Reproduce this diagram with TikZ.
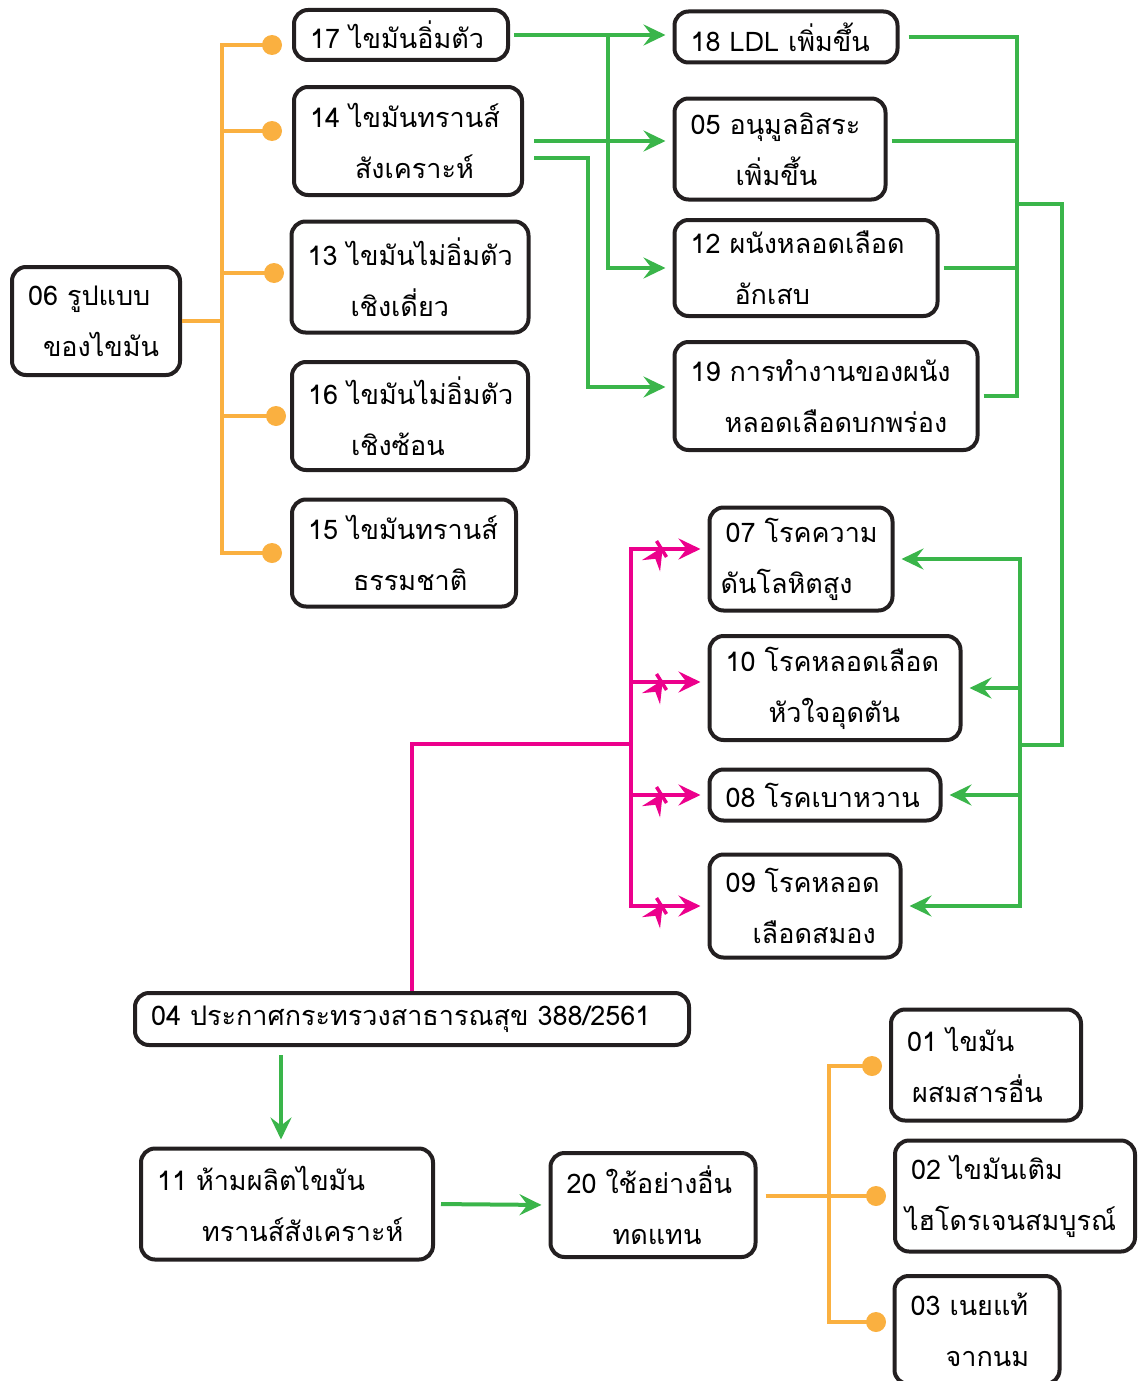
\documentclass[tikz,border=0pt]{standalone}
\usepackage{fontspec}
\setmainfont[Script=Thai]{Loma}
\usetikzlibrary{arrows.meta,decorations.markings}
\definecolor{grnline}{RGB}{58,181,74}
\definecolor{orgline}{RGB}{250,176,64}
\definecolor{pnkline}{RGB}{236,0,140}
\definecolor{boxline}{RGB}{35,31,32}
\begin{document}
\begin{tikzpicture}[
        x=1pt, y=-1pt,
        box/.style={draw=boxline, line width=4pt, rounded corners=14pt, fill=white,
            align=left, inner xsep=16pt, inner ysep=0pt, font=\fontsize{27}{51}\selectfont},
        dot/.style={circle, fill=orgline, inner sep=0pt, minimum size=20pt},
        org/.style={orgline, line width=4pt},
        grnl/.style={grnline, line width=4pt},
        grn/.style={grnl, -{Stealth[length=22pt, width=21pt, inset=8pt]}, shorten >=7pt},
        pnkl/.style={pnkline, line width=4pt},
        pnk/.style={pnkl, -{Stealth[length=22pt, width=21pt, inset=8pt]}, shorten >=7pt,
            postaction={decorate},
            decoration={markings, mark=at position -46pt with
                {\draw[pnkline, line width=3.5pt] (-5,-8) -- (5,8) (-5,8) -- (5,-8);}}}
    ]
        \useasboundingbox (0,0) rectangle (1146,1381);

        % รูปแบบของไขมัน
        \node[box, text width=136, minimum height=108] (b06) at (96,321) {06~รูปแบบ\\\hspace*{15pt}ของไขมัน};
        \node[box, text width=182, minimum height=50] (b17) at (401,35) {17~ไขมันอิ่มตัว};
        \node[box, text width=196, minimum height=108] (b14) at (408,141) {14~ไขมันทรานส์\\\hspace*{45pt}สังเคราะห์};
        \node[box, text width=205, minimum height=111] (b13) at (410,277) {13~ไขมันไม่อิ่มตัว\\\hspace*{43pt}เชิงเดี่ยว};
        \node[box, text width=204, minimum height=108] (b16) at (410,416) {16~ไขมันไม่อิ่มตัว\\\hspace*{43pt}เชิงซ้อน};
        \node[box, text width=192, minimum height=107] (b15) at (404,553) {15~ไขมันทรานส์\\\hspace*{45pt}ธรรมชาติ};

        % ผลต่อหลอดเลือด
        \node[box, text width=191, minimum height=51] (b18) at (786,37) {18~LDL เพิ่มขึ้น};
        \node[box, text width=179, minimum height=101] (b05) at (780,149) {05~อนุมูลอิสระ\\\hspace*{45pt}เพิ่มขึ้น};
        \node[box, text width=231, minimum height=96] (b12) at (806,268) {12~ผนังหลอดเลือด\\\hspace*{44pt}อักเสบ};
        \node[box, text width=271, minimum height=108] (b19) at (826,396) {19~การทำงานของผนัง\\\hspace*{34pt}หลอดเลือดบกพร่อง};

        % โรค
        \node[box, text width=151, minimum height=103] (b07) at (801,559) {07~โรคความ\\\hspace*{-5pt}ดันโลหิตสูง};
        \node[box, text width=219, minimum height=104] (b10) at (835,688) {10~โรคหลอดเลือด\\\hspace*{43pt}หัวใจอุดตัน};
        \node[box, text width=199, minimum height=51] (b08) at (825,795) {08~โรคเบาหวาน};
        \node[box, text width=159, minimum height=103] (b09) at (805,906) {09~โรคหลอด\\\hspace*{27pt}เลือดสมอง};

        % ประกาศและทางเลือก
        \node[box, text width=522, minimum height=52] (b04) at (412,1019) {04~ประกาศกระทรวงสาธารณสุข 388/2561};
        \node[box, text width=260, minimum height=111] (b11) at (287,1204) {11~ห้ามผลิตไขมัน\\\hspace*{45pt}ทรานส์สังเคราะห์};
        \node[box, text width=173, minimum height=104] (b20) at (653,1205) {20~ใช้อย่างอื่น\\\hspace*{46pt}ทดแทน};
        \node[box, text width=158, minimum height=111] (b01) at (986,1065) {01~ไขมัน\\\hspace*{5pt}ผสมสารอื่น};
        \node[box, text width=208, minimum height=111] (b02) at (1015,1196) {02~ไขมันเติม\\\hspace*{-6pt}ไฮโดรเจนสมบูรณ์};
        \node[box, text width=133, minimum height=108] (b03) at (977,1330) {03~เนยแท้\\\hspace*{35pt}จากนม};

        % เส้นสีส้ม
        \coordinate (t06) at (222,321);
        \coordinate (t20) at (829,1196);
        \draw[org] (b06.east) -- (t06);
        \foreach \y in {45, 131, 273, 416, 553} {
            \draw[org] (t06) |- (272,\y);
        }
        \draw[org, shorten <=8pt] (b20.east |- t20) -- (t20);
        \draw[org] (t20) |- (872,1066);
        \draw[org] (t20) -- (876,1196);
        \draw[org] (t20) |- (876,1322);
        \node[dot] (d17) at (272,45) {};
        \node[dot] (d14) at (272,131) {};
        \node[dot] (d13) at (274,273) {};
        \node[dot] (d16) at (276,416) {};
        \node[dot] (d15) at (272,553) {};
        \node[dot] (d01) at (872,1066) {};
        \node[dot] (d02) at (876,1196) {};
        \node[dot] (d03) at (876,1322) {};

        % เส้นสีเขียว
        \coordinate (j17) at (608,35);
        \coordinate (j14) at (588,158);
        \draw[grn, shorten <=4pt] (b17.east) -- (b17.east -| b18.west);
        \draw[grn] (j17) |- (b12.west);
        \draw[grn, shorten <=10pt] (b14.east) -- (b14.east -| b05.west);
        \draw[grn, shorten <=10pt] ([yshift=-17pt]b14.east) -- (j14) |- ([yshift=9pt]b19.west);

        \coordinate (rbus) at (1017,204);
        \coordinate (rturn) at (1062,204);
        \coordinate (lbus) at (1020,745);
        \draw[grnl, shorten <=9pt] (b18.east) -| (rbus);
        \draw[grnl, shorten <=4pt] ([yshift=8pt]b05.east) -- ([yshift=8pt]b05.east -| rbus);
        \draw[grnl, shorten <=4pt] (b12.east) -- (b12.east -| rbus);
        \draw[grnl, shorten <=4pt] (b19.east) -| (rbus);
        \draw[grnl] (rbus) -- (rturn) |- (lbus);
        \draw[grn] (lbus) |- (b07.east);
        \draw[grn] (lbus) |- (b10.east);
        \draw[grn] (lbus) |- (b08.east);
        \draw[grn] (lbus) |- (b09.east);

        \draw[grn, shorten <=8pt] ([xshift=-6pt]b04.south -| b11.north) -- ([xshift=-6pt]b11.north);
        \draw[grn, shorten <=6pt] (b11.east) -- (b20.west);

        % เส้นสีชมพู
        \coordinate (pbus) at (631,744);
        \draw[pnkl] (b04.north) |- (pbus);
        \draw[pnk] (pbus) |- ([yshift=10pt]b07.west);
        \draw[pnk] (pbus) |- ([yshift=6pt]b10.west);
        \draw[pnk] (pbus) |- (b08.west);
        \draw[pnk] (pbus) |- (b09.west);
    \end{tikzpicture}
\end{document}
